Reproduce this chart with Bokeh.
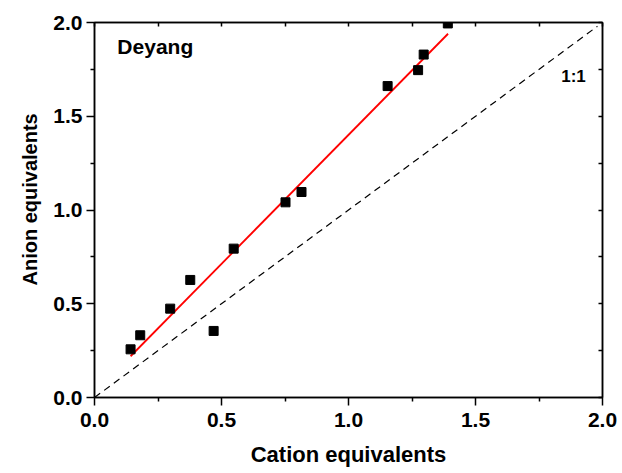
from bokeh.plotting import figure
from bokeh.models import LinearAxis, FixedTicker, Range1d, Label, CustomJSTickFormatter, PrintfTickFormatter, Title
from bokeh.embed import file_html
from bokeh.resources import INLINE

# Data
cation = [0.142, 0.180, 0.298, 0.377, 0.469, 0.548, 0.752, 0.815, 1.154, 1.274, 1.296, 1.391]
anion = [0.257, 0.332, 0.474, 0.627, 0.355, 0.794, 1.041, 1.096, 1.661, 1.746, 1.829, 1.995]

fit_x = [0.142, 1.392]
fit_y = [0.220, 1.940]

ref_x = [0.0, 1.98]
ref_y = [0.0, 1.98]

major_ticks = [0.0, 0.5, 1.0, 1.5, 2.0]
minor_ticks = [0.25, 0.75, 1.25, 1.75]

FONT = "Liberation Sans"

p = figure(width=622, height=473, output_backend="svg", toolbar_location=None,
           x_range=Range1d(0, 2), y_range=Range1d(0, 2),
           x_axis_location=None, y_axis_location=None,
           min_border_left=94, min_border_right=20, min_border_top=22, min_border_bottom=76)
p.grid.visible = False
p.outline_line_color = "black"
p.outline_line_width = 1.5
p.background_fill_color = "white"
p.border_fill_color = "white"

def make_axis(ax, label=None, outside=True, font_size="20px"):
    ax.ticker = FixedTicker(ticks=major_ticks, minor_ticks=minor_ticks)
    ax.axis_line_width = 1.5
    ax.major_tick_line_width = 1.5
    ax.minor_tick_line_width = 1.5
    if outside:
        ax.major_tick_out = 8
        ax.major_tick_in = 0
        ax.minor_tick_out = 4
        ax.minor_tick_in = 0
        ax.formatter = PrintfTickFormatter(format="%.1f")
        ax.major_label_text_font = FONT
        ax.major_label_text_font_style = "bold"
        ax.major_label_text_font_size = "21px"
        ax.major_label_text_color = "black"
        ax.major_label_standoff = 5
    else:
        ax.major_tick_out = 0
        ax.major_tick_in = 4
        ax.minor_tick_out = 0
        ax.minor_tick_in = 4
        ax.formatter = CustomJSTickFormatter(code="return ''")
    if label:
        ax.axis_label = label
        ax.axis_label_text_font = FONT
        ax.axis_label_text_font_style = "bold"
        ax.axis_label_text_font_size = font_size
        ax.axis_label_text_color = "black"
    return ax

bottom = make_axis(LinearAxis(), "Cation equivalents", True, "22px")
bottom.axis_label_standoff = 12
bottom.major_label_standoff = 7
left = make_axis(LinearAxis(), None, True)
left.major_label_standoff = 4
top = make_axis(LinearAxis(), None, False)
right = make_axis(LinearAxis(), None, False)
p.add_layout(bottom, "below")
p.add_layout(left, "left")
p.add_layout(top, "above")
p.add_layout(right, "right")

ylab = Title(text="Anion equivalents", align="left", offset=112, text_font=FONT,
             text_font_style="bold", text_font_size="20px", text_color="black", standoff=19)
p.add_layout(ylab, "left")

p.line(ref_x, ref_y, line_color="black", line_width=1.2, line_dash="7 5")
p.line(fit_x, fit_y, line_color="#ff0000", line_width=1.8)
p.scatter(cation, anion, marker="square", size=9, fill_color="black", line_color="black")

p.add_layout(Label(x=0.09, y=1.935, text="Deyang", text_font=FONT, text_font_style="bold",
                   text_font_size="21px", text_baseline="top", text_align="left", text_color="black"))
p.add_layout(Label(x=1.886, y=1.712, text="1:1", text_font=FONT, text_font_style="bold",
                   text_font_size="17px", text_baseline="middle", text_align="center", text_color="black"))

open("out.html", "w").write(file_html(p, INLINE))
